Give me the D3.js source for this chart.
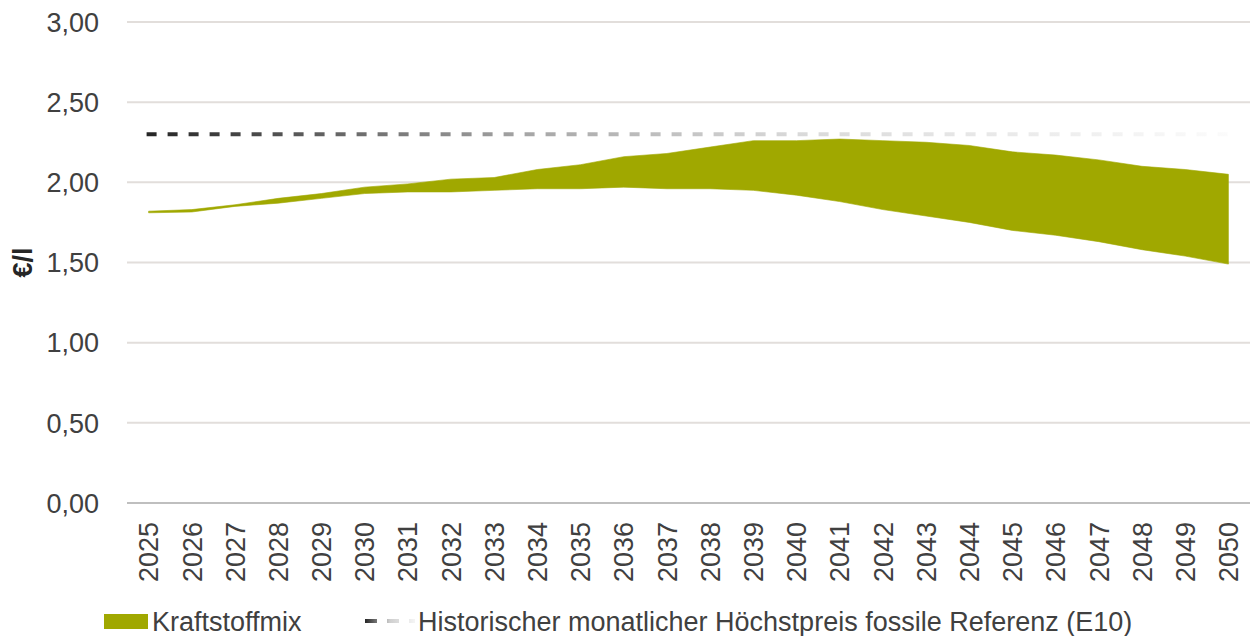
<!DOCTYPE html>
<html>
<head>
<meta charset="utf-8">
<script src="https://cdn.jsdelivr.net/npm/d3@7"></script>
<style>
  body { margin: 0; background: #fff; }
  svg { display: block; font-family: "Liberation Sans", Arial, sans-serif; }
</style>
</head>
<body>
<svg id="chart"></svg>
<script>
const width = 1250;
const height = 636;

// Daten
const years = ["2025","2026","2027","2028","2029","2030","2031","2032","2033","2034","2035","2036","2037",
               "2038","2039","2040","2041","2042","2043","2044","2045","2046","2047","2048","2049","2050"];
const upper = [1.82,1.83,1.86,1.90,1.93,1.97,1.99,2.02,2.03,2.08,2.11,2.16,2.18,
               2.22,2.26,2.26,2.27,2.26,2.25,2.23,2.19,2.17,2.14,2.10,2.08,2.05];
const lower = [1.81,1.815,1.85,1.87,1.90,1.93,1.94,1.94,1.95,1.96,1.96,1.97,1.96,
               1.96,1.95,1.92,1.88,1.83,1.79,1.75,1.70,1.67,1.63,1.58,1.54,1.49];
const refPrice = 2.30;
const yTicks = [0, 0.5, 1, 1.5, 2, 2.5, 3];
const legendLabels = ["Kraftstoffmix", "Historischer monatlicher Höchstpreis fossile Referenz (E10)"];

const plotLeft = 127, plotRight = 1250, plotTop = 22, plotBottom = 503;
const green = "#a0a800";
const textColor = "#404040";
const fontSize = "27px";

let svg = d3.select("#chart")
  .attr("width", width)
  .attr("height", height);

const x = d3.scaleBand().domain(years).range([plotLeft, plotRight]).padding(0);
const y = d3.scaleLinear().domain([0, 3]).range([plotBottom, plotTop]);
const cx = d => x(d) + x.bandwidth() / 2;
const fmt = v => v.toFixed(2).replace(".", ",");

// Verlauf für die gestrichelte Linie
const defs = svg.append("defs");
const grad = defs.append("linearGradient")
  .attr("id", "refGrad")
  .attr("gradientUnits", "userSpaceOnUse")
  .attr("x1", cx(years[0])).attr("x2", cx(years[years.length - 1]))
  .attr("y1", 0).attr("y2", 0);
[[0, "#262626"], [0.35, "#a6a6a6"], [0.6, "#d9d9d9"], [1, "#fbfbfb"]].forEach(s => {
  grad.append("stop").attr("offset", s[0]).attr("stop-color", s[1]);
});
const lgrad = defs.append("linearGradient")
  .attr("id", "legGrad")
  .attr("gradientUnits", "userSpaceOnUse")
  .attr("x1", 365).attr("x2", 415).attr("y1", 0).attr("y2", 0);
[[0, "#262626"], [0.5, "#cfcfcf"], [1, "#f5f5f5"]].forEach(s => {
  lgrad.append("stop").attr("offset", s[0]).attr("stop-color", s[1]);
});

// Gitternetz
svg.append("g")
  .selectAll("line")
  .data(yTicks.filter(t => t > 0))
  .enter().append("line")
  .attr("x1", plotLeft).attr("x2", plotRight)
  .attr("y1", d => y(d)).attr("y2", d => y(d))
  .attr("stroke", "#e2dedb")
  .attr("stroke-width", 2);

// Y-Achse Beschriftung
svg.append("g")
  .selectAll("text")
  .data(yTicks)
  .enter().append("text")
  .attr("x", 99)
  .attr("y", d => y(d))
  .attr("dy", "0.36em")
  .attr("text-anchor", "end")
  .attr("fill", textColor)
  .style("font-size", fontSize)
  .text(fmt);

svg.append("text")
  .attr("transform", `translate(32, ${y(1.5)}) rotate(-90)`)
  .attr("text-anchor", "middle")
  .attr("fill", "#262626")
  .style("font-size", fontSize)
  .style("font-weight", "bold")
  .text("€/l");

// Fläche
const area = d3.area()
  .x((d, i) => cx(years[i]))
  .y0((d, i) => y(lower[i]))
  .y1((d, i) => y(upper[i]));

svg.append("path")
  .datum(years)
  .attr("d", area)
  .attr("fill", green)
  .attr("stroke", green)
  .attr("stroke-width", 0.6);

// Referenzlinie
svg.append("line")
  .attr("x1", cx(years[0]) - 2).attr("x2", cx(years[years.length - 1]))
  .attr("y1", y(refPrice)).attr("y2", y(refPrice))
  .attr("stroke", "url(#refGrad)")
  .attr("stroke-width", 4)
  .attr("stroke-dasharray", "10 11");

// X-Achse
svg.append("line")
  .attr("x1", plotLeft).attr("x2", plotRight)
  .attr("y1", y(0)).attr("y2", y(0))
  .attr("stroke", "#bfbfbf")
  .attr("stroke-width", 2);

svg.append("g")
  .selectAll("text")
  .data(years)
  .enter().append("text")
  .attr("transform", d => `translate(${cx(d)}, 522) rotate(-90)`)
  .attr("dy", "0.36em")
  .attr("text-anchor", "end")
  .attr("fill", textColor)
  .style("font-size", fontSize)
  .text(d => d);

// Legende
const legend = svg.append("g");
legend.append("rect")
  .attr("x", 104).attr("y", 614)
  .attr("width", 44).attr("height", 15)
  .attr("fill", green);
legend.append("text")
  .attr("x", 152).attr("y", 621)
  .attr("dy", "0.36em")
  .attr("fill", textColor)
  .style("font-size", fontSize)
  .text(legendLabels[0]);
legend.append("line")
  .attr("x1", 365).attr("x2", 415)
  .attr("y1", 621).attr("y2", 621)
  .attr("stroke", "url(#legGrad)")
  .attr("stroke-width", 4)
  .attr("stroke-dasharray", "12 10");
legend.append("text")
  .attr("x", 418).attr("y", 621)
  .attr("dy", "0.36em")
  .attr("fill", textColor)
  .style("font-size", fontSize)
  .text(legendLabels[1]);
</script>
</body>
</html>
